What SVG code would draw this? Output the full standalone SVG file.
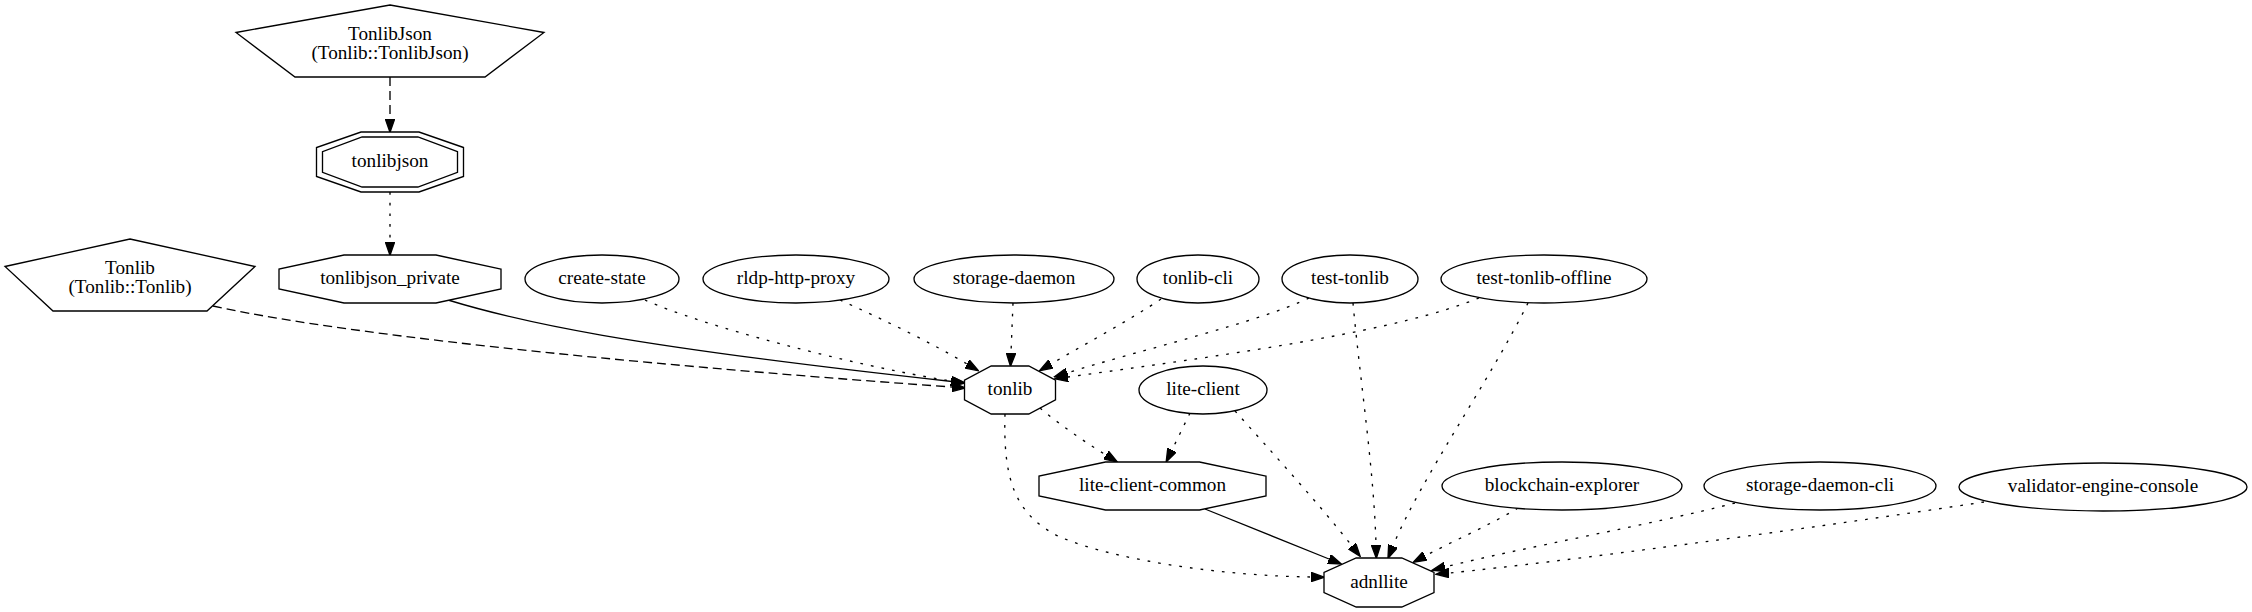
<svg xmlns="http://www.w3.org/2000/svg" width="2252" height="612" viewBox="0 0 2252 612">
<style>
.n{fill:#fff;stroke:#000;stroke-width:1.33}
.t{font-family:"Liberation Serif","Times New Roman",serif;font-size:19.2px;text-anchor:middle;fill:#000}
.e{fill:none;stroke:#000;stroke-width:1.33;marker-end:url(#ah)}
.dash{stroke-dasharray:9,5}
.dot{stroke-dasharray:2.7,8}
</style>
<defs>
<marker id="ah" viewBox="0 -5 14 10" refX="0" refY="0" markerWidth="14" markerHeight="10" markerUnits="userSpaceOnUse" orient="auto">
<path d="M0,-4.67 L13.33,0 L0,4.67 z" fill="#000" stroke="#000" stroke-width="1.33"/>
</marker>
</defs>
<rect width="2252" height="612" fill="#fff"/>
<g id="connectors">
<path class="e dash" d="M390,77 L390,119"/>
<path class="e dot" d="M390,192 L390,242"/>
<path class="e dash" d="M213,306 C330,332 600,362 952,387"/>
<path class="e" d="M448,300 C520,322 620,345 952,381.5"/>
<path class="e dot" d="M645,300 C700,325 850,365 951,381"/>
<path class="e dot" d="M840,300 C880,318 930,342 967,364"/>
<path class="e dot" d="M1013,303 L1011,353"/>
<path class="e dot" d="M1161,299 C1130,320 1085,344 1051,364"/>
<path class="e dot" d="M1309,298 C1260,322 1140,350 1067,373"/>
<path class="e dot" d="M1479,298 C1400,330 1250,352 1068,377"/>
<path class="e dot" d="M1353,303 C1360,380 1374,470 1376,545"/>
<path class="e dot" d="M1528,303 C1490,380 1420,480 1393,546"/>
<path class="e dot" d="M1040,408 C1060,425 1085,442 1106,455"/>
<path class="e dot" d="M1190,413 L1172,450"/>
<path class="e dot" d="M1235,411 C1270,450 1320,505 1352,546"/>
<path class="e dot" d="M1005,414 C1003,480 1015,515 1060,537 C1120,562 1230,576 1311,577"/>
<path class="e" d="M1205,509 L1329,559"/>
<path class="e dot" d="M1518,508 C1490,525 1455,540 1425,556"/>
<path class="e dot" d="M1735,503 C1650,525 1520,548 1445,567"/>
<path class="e dot" d="M1984,502 C1800,530 1560,562 1449,573"/>
</g>
<g id="TonlibJson">
<polygon class="n" points="390,5 544,32.5 485,77 295,77 236,32.5"/>
<text class="t" x="390" y="40">TonlibJson</text>
<text class="t" x="390" y="59">(Tonlib::TonlibJson)</text>
</g>
<g id="tonlibjson">
<polygon class="n" points="463.5,147.5 419,132 361,132 316.5,147.5 316.5,176.5 361,192 419,192 463.5,176.5"/>
<polygon class="n" points="457.5,151.65 417.9,137 362.1,137 322.5,151.65 322.5,172.35 362.1,187 417.9,187 457.5,172.35"/>
<text class="t" x="390" y="167">tonlibjson</text>
</g>
<g id="Tonlib">
<polygon class="n" points="130,239 255,266.5 207,311 53,311 5,266.5"/>
<text class="t" x="130" y="274">Tonlib</text>
<text class="t" x="130" y="293">(Tonlib::Tonlib)</text>
</g>
<g id="tonlibjson_private">
<polygon class="n" points="501,269.1 436,255 344,255 279,269.1 279,288.9 344,303 436,303 501,288.9"/>
<text class="t" x="390" y="284">tonlibjson_private</text>
</g>
<g id="create-state">
<ellipse class="n" cx="602" cy="279" rx="77" ry="24"/>
<text class="t" x="602" y="284">create-state</text>
</g>
<g id="rldp-http-proxy">
<ellipse class="n" cx="796" cy="279" rx="93" ry="24"/>
<text class="t" x="796" y="284">rldp-http-proxy</text>
</g>
<g id="storage-daemon">
<ellipse class="n" cx="1014" cy="279" rx="100" ry="24"/>
<text class="t" x="1014" y="284">storage-daemon</text>
</g>
<g id="tonlib-cli">
<ellipse class="n" cx="1198" cy="279" rx="61" ry="24"/>
<text class="t" x="1198" y="284">tonlib-cli</text>
</g>
<g id="test-tonlib">
<ellipse class="n" cx="1350" cy="279" rx="68" ry="24"/>
<text class="t" x="1350" y="284">test-tonlib</text>
</g>
<g id="test-tonlib-offline">
<ellipse class="n" cx="1544" cy="279" rx="103" ry="24"/>
<text class="t" x="1544" y="284">test-tonlib-offline</text>
</g>
<g id="tonlib">
<polygon class="n" points="1055.5,380.1 1028.8,366 991.2,366 964.5,380.1 964.5,399.9 991.2,414 1028.8,414 1055.5,399.9"/>
<text class="t" x="1010" y="395">tonlib</text>
</g>
<g id="lite-client">
<ellipse class="n" cx="1203" cy="390" rx="64" ry="24"/>
<text class="t" x="1203" y="395">lite-client</text>
</g>
<g id="lite-client-common">
<polygon class="n" points="1266,476.1 1199.5,462 1105.5,462 1039,476.1 1039,495.9 1105.5,510 1199.5,510 1266,495.9"/>
<text class="t" x="1152.5" y="491">lite-client-common</text>
</g>
<g id="blockchain-explorer">
<ellipse class="n" cx="1562" cy="486" rx="120" ry="24"/>
<text class="t" x="1562" y="491">blockchain-explorer</text>
</g>
<g id="storage-daemon-cli">
<ellipse class="n" cx="1820" cy="486" rx="116" ry="24"/>
<text class="t" x="1820" y="491">storage-daemon-cli</text>
</g>
<g id="validator-engine-console">
<ellipse class="n" cx="2103" cy="487" rx="144" ry="24"/>
<text class="t" x="2103" y="492">validator-engine-console</text>
</g>
<g id="adnllite">
<polygon class="n" points="1434,572.4 1401.8,558 1356.2,558 1324,572.4 1324,592.6 1356.2,607 1401.8,607 1434,592.6"/>
<text class="t" x="1379" y="587.5">adnllite</text>
</g>
</svg>
